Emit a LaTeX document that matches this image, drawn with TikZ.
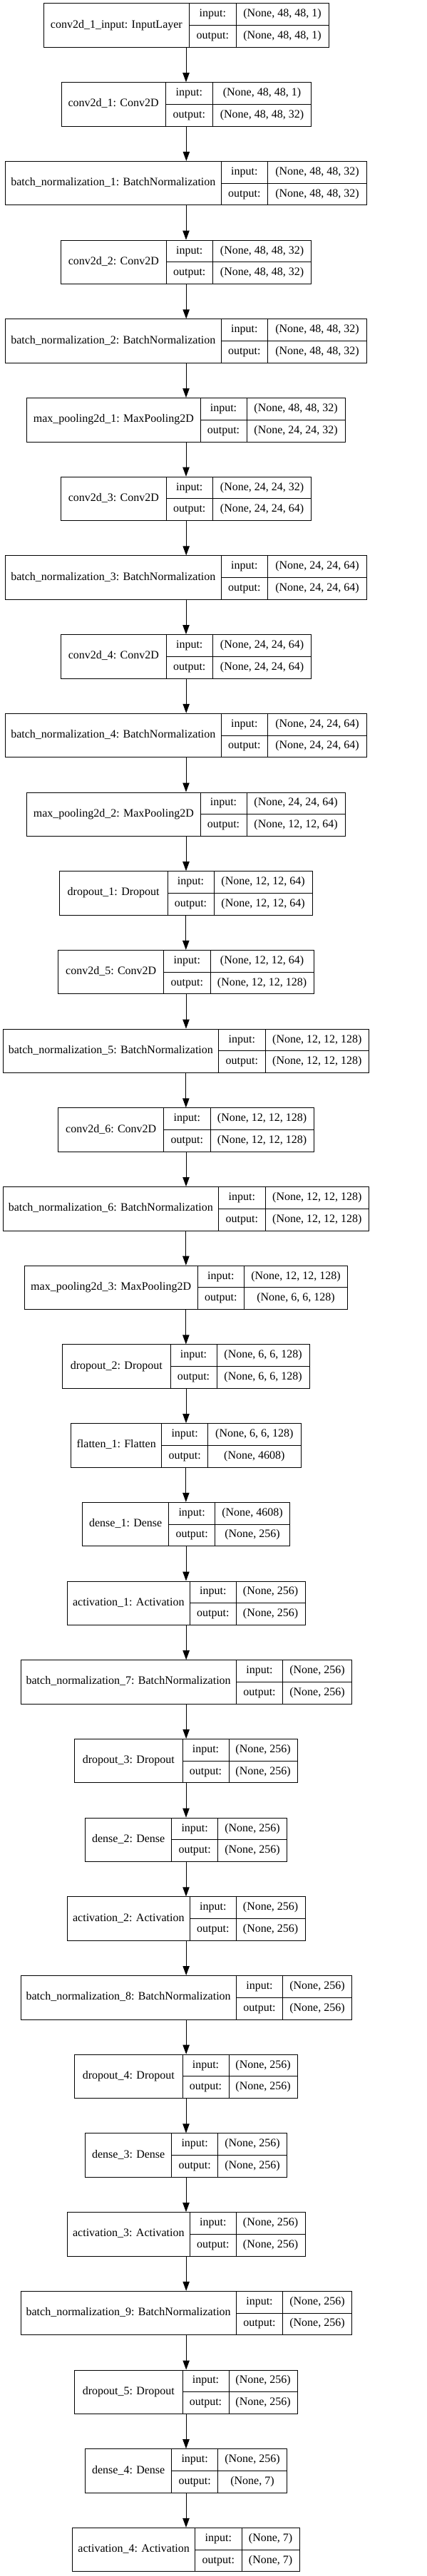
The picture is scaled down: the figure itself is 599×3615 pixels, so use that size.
\documentclass[tikz,border=0pt]{standalone}
\usepackage{fontspec}
\setmainfont{Liberation Serif}
\usepackage{tikz}
\usetikzlibrary{arrows.meta,fit}

% one keras layer: #1 index, #2 left, #3 first divider, #4 second divider, #5 right,
% #6 layer name, #7 input shape, #8 output shape
\newcommand{\layer}[8]{%
  \pgfmathsetmacro\laytop{5+110.7*(#1-1)}
  \coordinate (L#1-nw) at (#2,\laytop);
  \coordinate (L#1-se) at (#5,\laytop+61.5);
  \node[layerbox, fit=(L#1-nw)(L#1-se)] (L#1) {};
  % cell lines
  \draw[cellline] (#3,\laytop) -- (#3,\laytop+61.5);
  \draw[cellline] (#4,\laytop) -- (#4,\laytop+61.5);
  \draw[cellline] (#3,\laytop+30.75) -- (#5,\laytop+30.75);
  \node[txt] (L#1-name) at ({(#2+#3)/2},\laytop+30.75) {#6};
  \node[txt] (L#1-in) at ({(#3+#4)/2},\laytop+15.4) {input:};
  \node[txt] (L#1-out) at ({(#3+#4)/2},\laytop+46.1) {output:};
  \node[txt] (L#1-inshape) at ({(#4+#5)/2},\laytop+15.4) {#7};
  \node[txt] (L#1-outshape) at ({(#4+#5)/2},\laytop+46.1) {#8};
}

\begin{document}
\begin{tikzpicture}[x=0.75pt, y=-0.75pt,
    layerbox/.style={draw, line width=0.75pt, inner sep=0pt},
    cellline/.style={line width=0.75pt},
    txt/.style={inner sep=0pt, text height=1.55ex, text depth=0.4ex,
        font=\fontsize{12}{14}\selectfont},
    flow/.style={line width=0.75pt, -{Triangle[length=9.75pt, width=7pt]}}]

\useasboundingbox (0,0) rectangle (599,3615);

\layer{1}{61}{265.7}{331}{461}{conv2d\_1\_input: InputLayer}{(None, 48, 48, 1)}{(None, 48, 48, 1)}
\layer{2}{86}{232.3}{298.3}{436.7}{conv2d\_1: Conv2D}{(None, 48, 48, 1)}{(None, 48, 48, 32)}
\layer{3}{7.7}{310}{375.7}{514.3}{batch\_normalization\_1: BatchNormalization}{(None, 48, 48, 32)}{(None, 48, 48, 32)}
\layer{4}{85.7}{233}{298.5}{436.7}{conv2d\_2: Conv2D}{(None, 48, 48, 32)}{(None, 48, 48, 32)}
\layer{5}{7.7}{310}{375.7}{514.3}{batch\_normalization\_2: BatchNormalization}{(None, 48, 48, 32)}{(None, 48, 48, 32)}
\layer{6}{37.7}{281}{346}{484.3}{max\_pooling2d\_1: MaxPooling2D}{(None, 48, 48, 32)}{(None, 24, 24, 32)}
\layer{7}{85.7}{233}{298.5}{436.7}{conv2d\_3: Conv2D}{(None, 24, 24, 32)}{(None, 24, 24, 64)}
\layer{8}{7.7}{310}{375.7}{514.3}{batch\_normalization\_3: BatchNormalization}{(None, 24, 24, 64)}{(None, 24, 24, 64)}
\layer{9}{85.7}{233}{298.5}{436.7}{conv2d\_4: Conv2D}{(None, 24, 24, 64)}{(None, 24, 24, 64)}
\layer{10}{7.7}{310}{375.7}{514.3}{batch\_normalization\_4: BatchNormalization}{(None, 24, 24, 64)}{(None, 24, 24, 64)}
\layer{11}{37.7}{281}{346}{484.3}{max\_pooling2d\_2: MaxPooling2D}{(None, 24, 24, 64)}{(None, 12, 12, 64)}
\layer{12}{83.3}{235}{300}{438.3}{dropout\_1: Dropout}{(None, 12, 12, 64)}{(None, 12, 12, 64)}
\layer{13}{81.7}{229.7}{295}{440.3}{conv2d\_5: Conv2D}{(None, 12, 12, 64)}{(None, 12, 12, 128)}
\layer{14}{4}{306.7}{372}{517.7}{batch\_normalization\_5: BatchNormalization}{(None, 12, 12, 128)}{(None, 12, 12, 128)}
\layer{15}{81.7}{229.7}{295}{440.3}{conv2d\_6: Conv2D}{(None, 12, 12, 128)}{(None, 12, 12, 128)}
\layer{16}{4}{306.7}{372}{517.7}{batch\_normalization\_6: BatchNormalization}{(None, 12, 12, 128)}{(None, 12, 12, 128)}
\layer{17}{34}{277.3}{342.3}{487.7}{max\_pooling2d\_3: MaxPooling2D}{(None, 12, 12, 128)}{(None, 6, 6, 128)}
\layer{18}{87.7}{239}{304}{434.3}{dropout\_2: Dropout}{(None, 6, 6, 128)}{(None, 6, 6, 128)}
\layer{19}{99.7}{226.7}{291.7}{422}{flatten\_1: Flatten}{(None, 6, 6, 128)}{(None, 4608)}
\layer{20}{115.7}{236.7}{301.7}{406.3}{dense\_1: Dense}{(None, 4608)}{(None, 256)}
\layer{21}{94.3}{266.3}{331.3}{428}{activation\_1: Activation}{(None, 256)}{(None, 256)}
\layer{22}{29}{331.3}{396.7}{493.3}{batch\_normalization\_7: BatchNormalization}{(None, 256)}{(None, 256)}
\layer{23}{104.7}{256}{321}{417.3}{dropout\_3: Dropout}{(None, 256)}{(None, 256)}
\layer{24}{119.7}{240.7}{305.7}{402.3}{dense\_2: Dense}{(None, 256)}{(None, 256)}
\layer{25}{94.3}{266.3}{331.3}{428}{activation\_2: Activation}{(None, 256)}{(None, 256)}
\layer{26}{29}{331.3}{396.7}{493.3}{batch\_normalization\_8: BatchNormalization}{(None, 256)}{(None, 256)}
\layer{27}{104.7}{256}{321}{417.3}{dropout\_4: Dropout}{(None, 256)}{(None, 256)}
\layer{28}{119.7}{240.7}{305.7}{402.3}{dense\_3: Dense}{(None, 256)}{(None, 256)}
\layer{29}{94.3}{266.3}{331.3}{428}{activation\_3: Activation}{(None, 256)}{(None, 256)}
\layer{30}{29}{331.3}{396.7}{493.3}{batch\_normalization\_9: BatchNormalization}{(None, 256)}{(None, 256)}
\layer{31}{104.7}{256}{321}{417.3}{dropout\_5: Dropout}{(None, 256)}{(None, 256)}
\layer{32}{119.7}{240.7}{305.7}{402.3}{dense\_4: Dense}{(None, 256)}{(None, 7)}
\layer{33}{101.7}{273.7}{339}{420.3}{activation\_4: Activation}{(None, 7)}{(None, 7)}

% arrows between layers
\foreach \i in {1,...,32}{
  \pgfmathtruncatemacro\j{\i+1}
  \draw[flow] (L\i.south) -- (L\i.south |- L\j.north);
}

\end{tikzpicture}
\end{document}
